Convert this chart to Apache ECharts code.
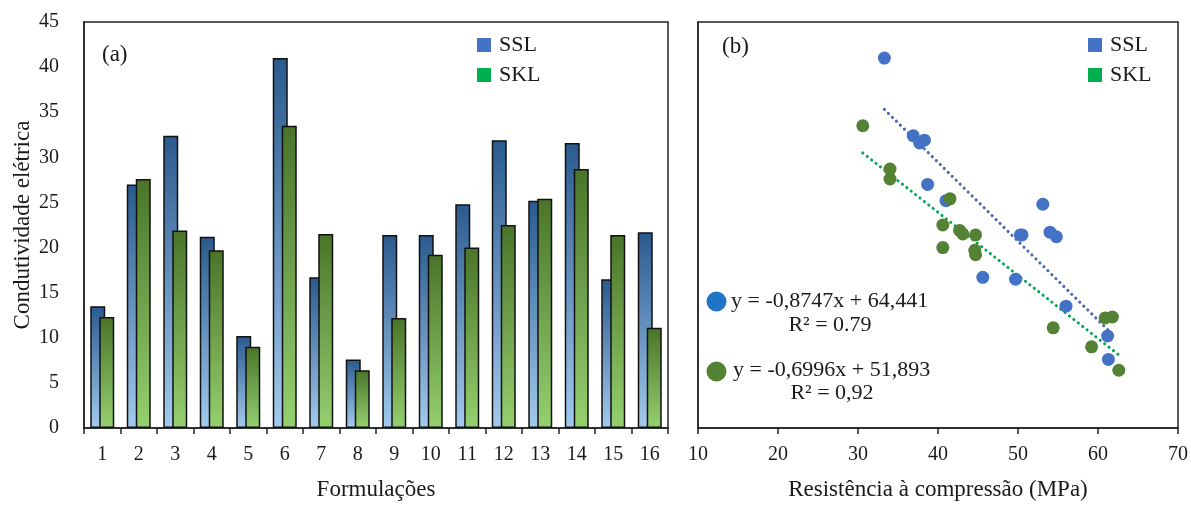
<!DOCTYPE html>
<html>
<head>
<meta charset="utf-8">
<script src="https://cdn.jsdelivr.net/npm/echarts@6/dist/echarts.min.js"></script>
<style>html,body{margin:0;padding:0;background:#fff}#c{width:1191px;height:506px}</style>
</head>
<body>
<div id="c"></div>
<script>
const categories = ['1','2','3','4','5','6','7','8','9','10','11','12','13','14','15','16'];
const sslConductivity = [13.5,27.0,32.4,21.2,10.2,41.0,16.7,7.6,21.4,21.4,24.8,31.9,25.2,31.6,16.5,21.7];
const sklConductivity = [12.3,27.6,21.9,19.7,9.0,33.5,21.5,6.4,12.2,19.2,20.0,22.5,25.4,28.7,21.4,11.1];
const sslStrength = [56.0,38.7,36.9,54.8,61.2,33.3,45.6,61.3,50.3,50.5,53.1,38.3,41.0,37.7,49.7,54.0];
const sklStrength = [61.8,34.0,42.7,44.6,59.2,30.6,43.1,62.6,60.9,44.7,40.6,40.6,41.5,34.0,44.7,54.4];
const sslFit = [-0.8747, 64.441];
const sklFit = [-0.6996, 51.893];
const yTicks = [0,5,10,15,20,25,30,35,40,45];
const xTicks = [10,20,30,40,50,60,70];

const FONT = 'Liberation Serif';
const TXT = '#1a1a1a';

function pairs(xs, ys){ return xs.map((x,i)=>[x, ys[i]]); }
function fitLine(xs, c){
  const lo = Math.min(...xs), hi = Math.max(...xs);
  return [[lo, c[0]*lo + c[1]], [hi, c[0]*hi + c[1]]];
}
function grad(top, bottom){
  return new echarts.graphic.LinearGradient(0,0,0,1,[{offset:0,color:top},{offset:1,color:bottom}]);
}
const legendCommon = {
  orient:'vertical', itemWidth:14, itemHeight:14, itemGap:8, icon:'rect', selectedMode:false,
  textStyle:{fontFamily:FONT, fontSize:22, color:TXT, padding:[0,0,0,3]}
};

const chart = echarts.init(document.getElementById('c'), null, {renderer:'canvas'});
chart.setOption({
  animation: false,
  backgroundColor: '#fff',
  grid: [
    {left:84, top:22, width:584, height:411, show:true, borderColor:'#222', borderWidth:1.5, backgroundColor:'transparent'},
    {left:698, top:22, width:480, height:411, show:true, borderColor:'#222', borderWidth:1.5, backgroundColor:'transparent'}
  ],
  legend: [
    Object.assign({data:[{name:'SSL', itemStyle:{color:'#4472C4', borderWidth:0}}, {name:'SKL', itemStyle:{color:'#00B050', borderWidth:0}}],
     left:472, top:29}, legendCommon),
    Object.assign({data:[{name:'SSL', itemStyle:{color:'#4472C4', borderWidth:0}}, {name:'SKL', itemStyle:{color:'#00B050', borderWidth:0}}],
     left:1083, top:29}, legendCommon)
  ],
  xAxis: [
    {type:'category', gridIndex:0, data:categories, boundaryGap:true,
     axisLine:{lineStyle:{color:'#222', width:1.5}},
     axisTick:{show:true, length:6, inside:false, lineStyle:{color:'#222', width:1.5}},
     axisLabel:{fontFamily:FONT, fontSize:20, color:TXT, margin:17},
     name:'Formulações', nameLocation:'middle', nameGap:50,
     nameTextStyle:{fontFamily:FONT, fontSize:23, color:TXT}},
    {type:'value', gridIndex:1, min:10, max:70, interval:10,
     axisLine:{show:true, onZero:false, lineStyle:{color:'#222', width:1.5}},
     axisTick:{show:true, length:6, lineStyle:{color:'#222', width:1.5}},
     splitLine:{show:false},
     axisLabel:{fontFamily:FONT, fontSize:20, color:TXT, margin:17,
                formatter:v=>xTicks.includes(v)?String(v):''},
     name:'Resistência à compressão (MPa)', nameLocation:'middle', nameGap:50,
     nameTextStyle:{fontFamily:FONT, fontSize:23, color:TXT}}
  ],
  yAxis: [
    {type:'value', gridIndex:0, min:0, max:45, interval:5,
     axisLine:{show:true, lineStyle:{color:'#222', width:1.5}},
     axisTick:{show:false}, splitLine:{show:false},
     axisLabel:{fontFamily:FONT, fontSize:20, color:TXT, margin:25,
                formatter:v=>yTicks.includes(v)?String(v):''},
     name:'Condutividade elétrica', nameLocation:'middle', nameGap:50,
     nameTextStyle:{fontFamily:FONT, fontSize:23, color:TXT}},
    {type:'value', gridIndex:1, min:0, max:45, interval:5,
     axisLine:{show:true, lineStyle:{color:'#222', width:1.5}},
     axisTick:{show:false}, splitLine:{show:false}, axisLabel:{show:false}}
  ],
  series: [
    {name:'SSL', type:'bar', xAxisIndex:0, yAxisIndex:0, data:sslConductivity,
     barWidth:15, barGap:'-40%',
     itemStyle:{color:grad('#2a5a8e','#a3caee'), borderColor:'#111', borderWidth:1.5}},
    {name:'SKL', type:'bar', xAxisIndex:0, yAxisIndex:0, data:sklConductivity,
     barWidth:15, barGap:'-40%',
     itemStyle:{color:grad('#4a7429','#95d06f'), borderColor:'#111', borderWidth:1.5}},
    {name:'SSL fit', type:'line', xAxisIndex:1, yAxisIndex:1, data:fitLine(sslStrength, sslFit),
     symbol:'none', lineStyle:{color:'#4a64ad', width:3, type:[0.1,5.5], cap:'round'}, z:1},
    {name:'SKL fit', type:'line', xAxisIndex:1, yAxisIndex:1, data:fitLine(sklStrength, sklFit),
     symbol:'none', lineStyle:{color:'#00a651', width:3, type:[0.1,5.5], cap:'round'}, z:1},
    {name:'SSL', type:'scatter', xAxisIndex:1, yAxisIndex:1, data:pairs(sslStrength, sslConductivity),
     symbolSize:13, itemStyle:{color:'#4472C4', opacity:1}, z:3},
    {name:'SKL', type:'scatter', xAxisIndex:1, yAxisIndex:1, data:pairs(sklStrength, sklConductivity),
     symbolSize:13, itemStyle:{color:'#548235', opacity:1}, z:3}
  ],
  graphic: [
    {type:'text', x:102, y:55, style:{text:'(a)', font:'23px "Liberation Serif"', fill:TXT, verticalAlign:'middle'}},
    {type:'text', x:722, y:47, style:{text:'(b)', font:'23px "Liberation Serif"', fill:TXT, verticalAlign:'middle'}},
    {type:'circle', shape:{cx:716.5, cy:301.5, r:10}, style:{fill:'#1f74c6'}},
    {type:'text', x:731, y:301, style:{text:'y = -0,8747x + 64,441', font:'22px "Liberation Serif"', fill:TXT, verticalAlign:'middle'}},
    {type:'text', x:830, y:325, style:{text:'R² = 0.79', font:'22px "Liberation Serif"', fill:TXT, align:'center', verticalAlign:'middle'}},
    {type:'circle', shape:{cx:716.5, cy:371.5, r:10}, style:{fill:'#548235'}},
    {type:'text', x:733, y:370, style:{text:'y = -0,6996x + 51,893', font:'22px "Liberation Serif"', fill:TXT, verticalAlign:'middle'}},
    {type:'text', x:832, y:393, style:{text:'R² = 0,92', font:'22px "Liberation Serif"', fill:TXT, align:'center', verticalAlign:'middle'}}
  ]
});
</script>
</body>
</html>
